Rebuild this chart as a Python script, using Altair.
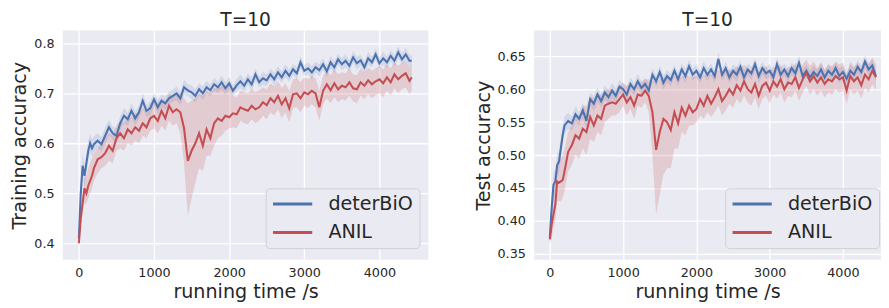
import altair as alt
import pandas as pd

FONT = "DejaVu Sans"
METHODS = ["deterBiO", "ANIL"]
COLORS = ["#4C72B0", "#C44E52"]
BAND_OPACITY = [0.15, 0.2]
X_TICKS = [0, 1000, 2000, 3000, 4000]

T_HEAD = [0, 25, 50, 75, 100, 125, 150, 175, 200]
TIME_TRAIN = T_HEAD + list(range(250, 4401, 50)) + [4430]
TIME_TEST = T_HEAD + list(range(250, 4451, 50))

# ---------------- Training accuracy ----------------
TRAIN_DETERBIO = [
    0.410, 0.500, 0.555, 0.535, 0.560, 0.585, 0.600, 0.590, 0.598,
    0.605, 0.598, 0.615, 0.632, 0.620, 0.615, 0.640, 0.655, 0.648, 0.665,
    0.650, 0.662, 0.685, 0.665, 0.670, 0.688, 0.672, 0.685, 0.680, 0.690,
    0.695, 0.700, 0.690, 0.712, 0.706, 0.702, 0.695, 0.708, 0.700, 0.712,
    0.706, 0.718, 0.712, 0.722, 0.710, 0.720, 0.705, 0.716, 0.724, 0.715,
    0.728, 0.718, 0.738, 0.722, 0.730, 0.726, 0.738, 0.728, 0.742, 0.732,
    0.745, 0.735, 0.748, 0.740, 0.762, 0.745, 0.750, 0.742, 0.752, 0.746,
    0.758, 0.744, 0.762, 0.752, 0.768, 0.758, 0.765, 0.755, 0.772, 0.760,
    0.766, 0.752, 0.770, 0.762, 0.778, 0.760, 0.770, 0.762, 0.775, 0.765,
    0.782, 0.768, 0.778, 0.765,
    0.765,
]
TRAIN_DETERBIO_SPREAD = [
    0.005, 0.025, 0.025, 0.022, 0.020, 0.020, 0.018, 0.018, 0.016,
    0.015, 0.014, 0.016, 0.015, 0.013, 0.015, 0.014, 0.016, 0.013, 0.015,
    0.014, 0.013, 0.015, 0.012, 0.014, 0.013, 0.015, 0.012, 0.014, 0.013,
    0.012, 0.014, 0.013, 0.015, 0.012, 0.014, 0.013, 0.012, 0.014, 0.013,
    0.012, 0.013, 0.011, 0.014, 0.012, 0.013, 0.011, 0.012, 0.014, 0.012,
    0.011, 0.013, 0.012, 0.011, 0.013, 0.012, 0.011, 0.013, 0.012, 0.011,
    0.013, 0.012, 0.011, 0.013, 0.012, 0.011, 0.012, 0.013, 0.011, 0.012,
    0.012, 0.011, 0.013, 0.012, 0.011, 0.012, 0.013, 0.011, 0.012, 0.013,
    0.011, 0.012, 0.013, 0.011, 0.012, 0.011, 0.013, 0.012, 0.011, 0.012,
    0.012, 0.011, 0.013, 0.012,
    0.010,
]
TRAIN_ANIL = [
    0.400, 0.450, 0.480, 0.510, 0.500, 0.515, 0.525, 0.535, 0.550,
    0.568, 0.572, 0.580, 0.595, 0.585, 0.610, 0.620, 0.610, 0.628, 0.620,
    0.632, 0.625, 0.640, 0.632, 0.650, 0.655, 0.645, 0.665, 0.650, 0.675,
    0.662, 0.668, 0.662, 0.630, 0.565, 0.585, 0.600, 0.620, 0.595, 0.628,
    0.610, 0.640, 0.650, 0.645, 0.655, 0.652, 0.660, 0.658, 0.672, 0.668,
    0.665, 0.675, 0.668, 0.672, 0.682, 0.676, 0.690, 0.682, 0.695, 0.678,
    0.690, 0.670, 0.698, 0.700, 0.690, 0.702, 0.698, 0.705, 0.700, 0.672,
    0.705, 0.718, 0.706, 0.720, 0.708, 0.715, 0.712, 0.722, 0.710, 0.708,
    0.722, 0.715, 0.726, 0.718, 0.724, 0.728, 0.720, 0.732, 0.722, 0.738,
    0.728, 0.735, 0.740, 0.725,
    0.732,
]
TRAIN_ANIL_LO = [
    0.395, 0.430, 0.460, 0.480, 0.480, 0.490, 0.500, 0.510, 0.525,
    0.540, 0.550, 0.555, 0.565, 0.560, 0.585, 0.590, 0.585, 0.600, 0.595,
    0.605, 0.600, 0.615, 0.610, 0.625, 0.630, 0.620, 0.635, 0.625, 0.645,
    0.635, 0.640, 0.620, 0.560, 0.455, 0.490, 0.520, 0.550, 0.545, 0.575,
    0.575, 0.595, 0.610, 0.615, 0.625, 0.630, 0.632, 0.630, 0.645, 0.640,
    0.638, 0.648, 0.640, 0.645, 0.655, 0.648, 0.662, 0.655, 0.668, 0.650,
    0.662, 0.642, 0.670, 0.672, 0.662, 0.675, 0.670, 0.678, 0.672, 0.645,
    0.678, 0.690, 0.680, 0.692, 0.682, 0.688, 0.685, 0.695, 0.684, 0.680,
    0.695, 0.688, 0.698, 0.690, 0.696, 0.700, 0.692, 0.705, 0.695, 0.710,
    0.700, 0.708, 0.712, 0.698,
    0.705,
]
TRAIN_ANIL_HI = [
    0.405, 0.470, 0.500, 0.530, 0.535, 0.550, 0.560, 0.570, 0.580,
    0.590, 0.600, 0.610, 0.620, 0.615, 0.635, 0.645, 0.640, 0.655, 0.650,
    0.660, 0.660, 0.670, 0.665, 0.680, 0.685, 0.680, 0.690, 0.685, 0.700,
    0.695, 0.700, 0.700, 0.690, 0.680, 0.685, 0.690, 0.700, 0.695, 0.705,
    0.700, 0.710, 0.710, 0.715, 0.715, 0.715, 0.695, 0.692, 0.705, 0.702,
    0.700, 0.708, 0.702, 0.706, 0.712, 0.708, 0.720, 0.714, 0.725, 0.710,
    0.720, 0.704, 0.728, 0.730, 0.722, 0.732, 0.728, 0.735, 0.730, 0.705,
    0.735, 0.745, 0.736, 0.748, 0.738, 0.742, 0.740, 0.750, 0.738, 0.736,
    0.750, 0.742, 0.752, 0.745, 0.750, 0.755, 0.748, 0.758, 0.750, 0.762,
    0.755, 0.760, 0.765, 0.752,
    0.758,
]

# ---------------- Test accuracy ----------------
TEST_DETERBIO = [
    0.375, 0.420, 0.455, 0.460, 0.485, 0.490, 0.510, 0.530, 0.545,
    0.552, 0.548, 0.562, 0.555, 0.568, 0.552, 0.585, 0.578, 0.592, 0.582,
    0.595, 0.588, 0.598, 0.590, 0.604, 0.600, 0.592, 0.608, 0.600, 0.612,
    0.602, 0.608, 0.598, 0.622, 0.612, 0.626, 0.610, 0.620, 0.614, 0.628,
    0.615, 0.630, 0.620, 0.635, 0.622, 0.628, 0.618, 0.632, 0.622, 0.630,
    0.620, 0.646, 0.622, 0.632, 0.618, 0.628, 0.622, 0.634, 0.618, 0.630,
    0.624, 0.638, 0.620, 0.632, 0.624, 0.628, 0.618, 0.638, 0.622, 0.630,
    0.620, 0.632, 0.624, 0.640, 0.620, 0.628, 0.618, 0.626, 0.620, 0.630,
    0.618, 0.628, 0.622, 0.632, 0.620, 0.626, 0.616, 0.628, 0.622, 0.634,
    0.626, 0.642, 0.630, 0.636, 0.620,
]
TEST_DETERBIO_SPREAD = [
    0.005, 0.020, 0.020, 0.018, 0.018, 0.016, 0.016, 0.015, 0.014,
    0.012, 0.011, 0.012, 0.010, 0.012, 0.011, 0.010, 0.012, 0.011, 0.010,
    0.011, 0.010, 0.012, 0.011, 0.010, 0.009, 0.011, 0.010, 0.009, 0.011,
    0.010, 0.009, 0.011, 0.010, 0.009, 0.010, 0.011, 0.009, 0.010, 0.009,
    0.010, 0.009, 0.011, 0.010, 0.009, 0.010, 0.009, 0.011, 0.010, 0.009,
    0.010, 0.011, 0.009, 0.010, 0.009, 0.010, 0.011, 0.009, 0.010, 0.009,
    0.010, 0.009, 0.011, 0.010, 0.009, 0.010, 0.009, 0.010, 0.011, 0.009,
    0.010, 0.009, 0.010, 0.011, 0.009, 0.010, 0.009, 0.010, 0.009, 0.011,
    0.010, 0.009, 0.010, 0.009, 0.011, 0.010, 0.009, 0.010, 0.009, 0.010,
    0.011, 0.010, 0.009, 0.010, 0.008,
]
TEST_ANIL = [
    0.372, 0.395, 0.410, 0.425, 0.460, 0.458, 0.460, 0.462, 0.475,
    0.505, 0.515, 0.530, 0.525, 0.540, 0.535, 0.558, 0.545, 0.560, 0.555,
    0.575, 0.578, 0.580, 0.578, 0.585, 0.592, 0.580, 0.588, 0.575, 0.592,
    0.590, 0.598, 0.590, 0.565, 0.508, 0.535, 0.555, 0.550, 0.538, 0.565,
    0.548, 0.572, 0.560, 0.575, 0.565, 0.570, 0.585, 0.575, 0.590, 0.578,
    0.588, 0.600, 0.582, 0.590, 0.600, 0.592, 0.606, 0.598, 0.612, 0.600,
    0.595, 0.608, 0.590, 0.605, 0.610, 0.598, 0.612, 0.604, 0.615, 0.600,
    0.610, 0.608, 0.618, 0.602, 0.615, 0.625, 0.612, 0.620, 0.610, 0.618,
    0.608, 0.615, 0.612, 0.620, 0.615, 0.618, 0.598, 0.620, 0.612, 0.618,
    0.606, 0.622, 0.615, 0.628, 0.618,
]
TEST_ANIL_LO = [
    0.365, 0.375, 0.390, 0.400, 0.430, 0.430, 0.430, 0.435, 0.445,
    0.475, 0.485, 0.500, 0.495, 0.510, 0.500, 0.525, 0.520, 0.535, 0.530,
    0.550, 0.555, 0.560, 0.560, 0.565, 0.575, 0.560, 0.570, 0.555, 0.575,
    0.572, 0.580, 0.565, 0.500, 0.410, 0.440, 0.470, 0.480, 0.480, 0.510,
    0.510, 0.535, 0.530, 0.545, 0.545, 0.550, 0.560, 0.555, 0.565, 0.558,
    0.565, 0.575, 0.560, 0.568, 0.578, 0.572, 0.585, 0.578, 0.590, 0.580,
    0.575, 0.588, 0.570, 0.585, 0.590, 0.578, 0.592, 0.585, 0.595, 0.580,
    0.590, 0.588, 0.598, 0.582, 0.595, 0.605, 0.592, 0.600, 0.590, 0.598,
    0.588, 0.595, 0.592, 0.600, 0.595, 0.598, 0.578, 0.600, 0.592, 0.598,
    0.586, 0.602, 0.595, 0.608, 0.598,
]
TEST_ANIL_HI = [
    0.380, 0.420, 0.440, 0.460, 0.490, 0.490, 0.495, 0.500, 0.510,
    0.535, 0.545, 0.560, 0.560, 0.575, 0.575, 0.590, 0.585, 0.595, 0.590,
    0.600, 0.600, 0.600, 0.598, 0.605, 0.610, 0.605, 0.610, 0.600, 0.612,
    0.610, 0.615, 0.615, 0.612, 0.610, 0.615, 0.618, 0.620, 0.615, 0.620,
    0.615, 0.620, 0.620, 0.620, 0.618, 0.620, 0.625, 0.620, 0.625, 0.622,
    0.625, 0.630, 0.625, 0.628, 0.630, 0.628, 0.635, 0.630, 0.638, 0.632,
    0.628, 0.635, 0.625, 0.632, 0.635, 0.625, 0.635, 0.630, 0.638, 0.625,
    0.635, 0.632, 0.640, 0.628, 0.638, 0.645, 0.635, 0.642, 0.632, 0.640,
    0.630, 0.638, 0.635, 0.642, 0.638, 0.640, 0.622, 0.642, 0.635, 0.640,
    0.630, 0.645, 0.638, 0.648, 0.638,
]


def build(times, blue, blue_spread, red, red_lo, red_hi):
    rows = []
    for t, v, s in zip(times, blue, blue_spread):
        rows.append(dict(time=t, acc=v, lo=v - s, hi=v + s, method="deterBiO"))
    for t, v, lo, hi in zip(times, red, red_lo, red_hi):
        rows.append(dict(time=t, acc=v, lo=lo, hi=hi, method="ANIL"))
    return pd.DataFrame(rows)


def panel(df, ytitle, xdom, ydom, yticks, yfmt, lx, ly, width):
    cscale = alt.Scale(domain=METHODS, range=COLORS)
    xs = alt.Scale(domain=xdom, nice=False, zero=False)
    ys = alt.Scale(domain=ydom, nice=False, zero=False)
    xaxis = alt.Axis(values=X_TICKS, format="d", title="running time /s")
    yaxis = alt.Axis(values=yticks, format=yfmt, title=ytitle)
    base = alt.Chart(df)
    bands = []
    for name, col, op in zip(METHODS, COLORS, BAND_OPACITY):
        bands.append(
            base.transform_filter(alt.datum.method == name)
            .mark_area(color=col, opacity=op, clip=True)
            .encode(
                x=alt.X("time:Q", scale=xs, axis=xaxis),
                y=alt.Y("lo:Q", scale=ys, axis=yaxis),
                y2="hi:Q",
            )
        )
    lines = base.mark_line(strokeWidth=2.1, clip=True).encode(
        x=alt.X("time:Q", scale=xs, axis=xaxis),
        y=alt.Y("acc:Q", scale=ys, axis=yaxis),
        color=alt.Color("method:N", scale=cscale,
                        legend=alt.Legend(orient="none", legendX=lx,
                                          legendY=ly, title=None)),
    )
    return alt.layer(*bands, lines).properties(
        width=width, height=234,
        title=alt.Title("T=10", fontSize=19, font=FONT, fontWeight="normal",
                        color="#262626", offset=1),
    )


train_df = build(TIME_TRAIN, TRAIN_DETERBIO, TRAIN_DETERBIO_SPREAD,
                 TRAIN_ANIL, TRAIN_ANIL_LO, TRAIN_ANIL_HI)
test_df = build(TIME_TEST, TEST_DETERBIO, TEST_DETERBIO_SPREAD,
                TEST_ANIL, TEST_ANIL_LO, TEST_ANIL_HI)

left = panel(train_df, "Training accuracy", [-213, 4651], [0.3667, 0.8255],
             [0.4, 0.5, 0.6, 0.7, 0.8], ".1f", 207, 161, 373)
right = panel(test_df, "Test accuracy", [-214, 4519], [0.341, 0.689],
              [0.35, 0.40, 0.45, 0.50, 0.55, 0.60, 0.65], ".2f", 195, 161, 354)

chart = alt.hconcat(left, right, spacing=46).resolve_scale(
    color="independent").resolve_legend(color="independent").properties(
    padding={"left": 2, "top": 0, "right": 0, "bottom": 0},
    background="white",
).configure_view(fill="#EAEAF2", stroke=None).configure_axis(
    grid=True, gridColor="white", gridWidth=1.3, domain=False, ticks=False,
    labelFont=FONT, labelFontSize=13, labelColor="#262626", labelPadding=8,
    labelOverlap=False,
    titleFont=FONT, titleFontSize=19.5, titleFontWeight="normal",
    titleColor="#262626", titlePadding=6,
).configure_axisX(labelPadding=7, titlePadding=3).configure_axisY(
    labelPadding=9, titlePadding=4,
).configure_legend(
    symbolType="stroke", symbolSize=1600, symbolStrokeWidth=3,
    clipHeight=20, rowPadding=9, labelFontSize=19.5, labelFont=FONT,
    labelColor="#262626", labelOffset=15, padding=6,
    fillColor="#EAEAF2", strokeColor="#CFCFD4", cornerRadius=4,
)

chart.save("out.html", embed_options={"renderer": "svg", "actions": False})
